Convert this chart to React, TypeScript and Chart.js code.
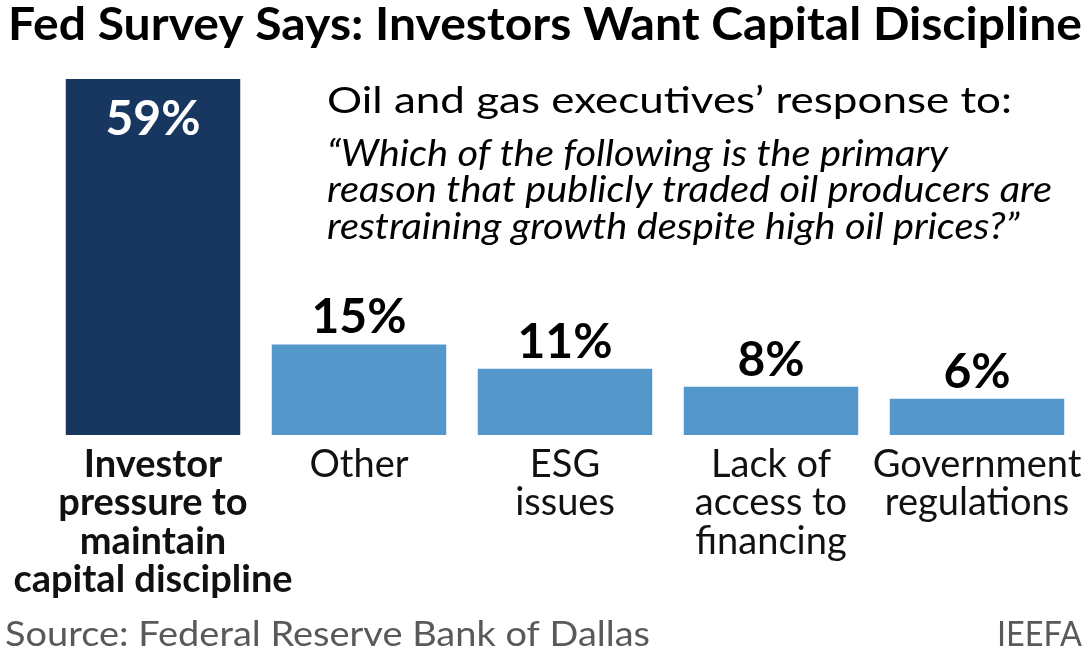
import React, { useEffect, useRef } from "react";
import { Chart, registerables } from "chart.js";

Chart.register(...registerables);

const TITLE = "Fed Survey Says: Investors Want Capital Discipline";
const SUBTITLE = "Oil and gas executives\u2019 response to:";
const QUESTION_LINES = [
  "\u201CWhich of the following is the primary",
  "reason that publicly traded oil producers are",
  "restraining growth despite high oil prices?\u201D",
];
const SOURCE = "Source: Federal Reserve Bank of Dallas";
const BRAND = "IEEFA";

const categories: string[][] = [
  ["Investor", "pressure to", "maintain", "capital discipline"],
  ["Other"],
  ["ESG", "issues"],
  ["Lack of", "access to", "financing"],
  ["Government", "regulations"],
];
const shares = [59, 15, 11, 8, 6];
const shareLabels = ["59%", "15%", "11%", "8%", "6%"];

const DARK = "#173760";
const LIGHT = "#5497CB";
const FONT = "Lato, 'Open Sans', sans-serif";

function fitText(
  ctx: CanvasRenderingContext2D,
  text: string,
  x: number,
  y: number,
  font: string,
  targetW: number | null,
  align: CanvasTextAlign,
  color: string,
  sxOverride?: number
) {
  ctx.save();
  ctx.font = font;
  ctx.fillStyle = color;
  ctx.textAlign = align;
  ctx.textBaseline = "alphabetic";
  const w = ctx.measureText(text).width;
  const sx = sxOverride !== undefined ? sxOverride : targetW ? targetW / w : 1;
  ctx.translate(x, y);
  ctx.scale(sx, 1);
  ctx.fillText(text, 0, 0);
  ctx.restore();
  return sx;
}

const textPlugin = {
  id: "textPlugin",
  afterDraw(chart: any) {
    const ctx: CanvasRenderingContext2D = chart.ctx;
    fitText(ctx, TITLE, 8, 40, `bold 46px ${FONT}`, 1074, "left", "#000");
    fitText(ctx, SUBTITLE, 327, 113, `normal 36px ${FONT}`, 685, "left", "#000");
    ctx.save();
    ctx.font = `italic 36px ${FONT}`;
    const w2 = ctx.measureText(QUESTION_LINES[1]).width;
    ctx.restore();
    const sxq = 725 / w2;
    const qBase = [166, 202, 239];
    QUESTION_LINES.forEach((ln, i) => {
      fitText(ctx, ln, 327, qBase[i], `italic 36px ${FONT}`, null, "left", "#000", sxq);
    });
    fitText(ctx, SOURCE, 5, 646, `normal 34px ${FONT}`, 645, "left", "#595959");
    fitText(ctx, BRAND, 1082, 646, `normal 34px ${FONT}`, 85, "right", "#595959");
  },
  afterDatasetsDraw(chart: any) {
    const ctx: CanvasRenderingContext2D = chart.ctx;
    const meta = chart.getDatasetMeta(0);
    meta.data.forEach((bar: any, i: number) => {
      ctx.save();
      ctx.font = `bold 48px ${FONT}`;
      ctx.textAlign = "center";
      ctx.textBaseline = "alphabetic";
      if (i === 0) {
        ctx.fillStyle = "#ffffff";
        ctx.fillText(shareLabels[i], bar.x, bar.y + 56);
      } else {
        ctx.fillStyle = "#000000";
        ctx.fillText(shareLabels[i], bar.x, bar.y - 11);
      }
      ctx.restore();
    });
  },
};

export default function App() {
  const ref = useRef<HTMLCanvasElement | null>(null);
  useEffect(() => {
    if (!ref.current) return;
    const chart = new Chart(ref.current, {
      type: "bar",
      data: {
        labels: categories,
        datasets: [
          {
            data: shares,
            backgroundColor: shares.map((_, i) => (i === 0 ? DARK : LIGHT)),
            borderWidth: 0,
            barPercentage: 0.847,
            categoryPercentage: 1,
          },
        ],
      },
      options: {
        animation: false,
        responsive: true,
        maintainAspectRatio: false,
        layout: { padding: { top: 79, left: 50, right: 10, bottom: 0 } },
        plugins: {
          legend: { display: false },
          tooltip: { enabled: false },
          title: { display: false },
        },
        scales: {
          y: { display: false, min: 0, max: 59 },
          x: {
            grid: { display: false, drawTicks: false },
            border: { display: false },
            ticks: {
              autoSkip: false,
              maxRotation: 0,
              minRotation: 0,
              padding: 10,
              color: "#111111",
              font: (c: any) => ({
                family: FONT,
                size: 38,
                weight: c.index === 0 ? "bold" : "normal",
                lineHeight: "38.5px",
              }),
            },
            afterFit: (scale: any) => {
              scale.height = 219;
              scale.paddingLeft = 0;
              scale.paddingRight = 0;
            },
          },
        },
      },
      plugins: [textPlugin],
    });
    return () => chart.destroy();
  }, []);
  return (
    <div
      style={{
        position: "fixed",
        left: 0,
        top: 0,
        width: 1090,
        height: 654,
        background: "#ffffff",
      }}
    >
      <canvas ref={ref} />
    </div>
  );
}
